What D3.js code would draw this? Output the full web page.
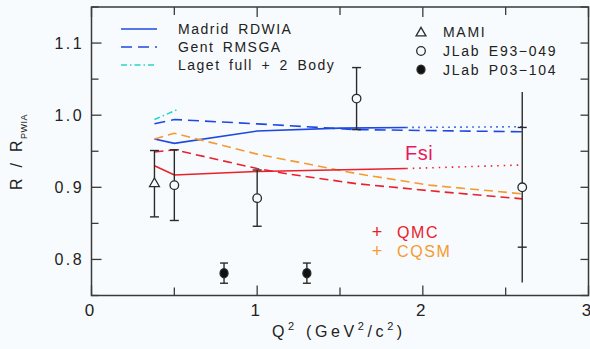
<!DOCTYPE html>
<html><head><meta charset="utf-8">
<script src="https://cdn.jsdelivr.net/npm/d3@7"></script>
<style>
html,body{margin:0;padding:0;background:#f8fbfd;}
svg{display:block;font-family:"Liberation Sans",Arial,sans-serif;}
</style></head>
<body><svg id="c" width="590" height="349"></svg>
<script>
// ---- axis ticks ----
const xTickLabels = [0, 1, 2, 3];
const yTickLabels = [0.8, 0.9, 1.0, 1.1];

// ---- theory curves ----
const madridQ2 = [0.38, 0.5, 1.0, 1.5, 1.9];
const madridR  = [0.967, 0.961, 0.978, 0.982, 0.983];
const madridExtQ2 = [1.9, 2.6];
const madridExtR  = [0.983, 0.984];

const gentQ2 = [0.38, 0.5, 1.0, 1.6, 2.6];
const gentR  = [0.988, 0.994, 0.988, 0.980, 0.977];

const lagetQ2 = [0.38, 0.52];
const lagetR  = [0.994, 1.008];

const cqsmQ2 = [0.38, 0.5, 1.0, 1.6, 2.04, 2.6];
const cqsmR  = [0.967, 0.975, 0.946, 0.919, 0.903, 0.891];

const qmcQ2 = [0.38, 0.5, 1.0, 1.2, 1.6, 2.1, 2.6];
const qmcR  = [0.949, 0.952, 0.926, 0.918, 0.905, 0.894, 0.884];

const fsiQ2 = [0.38, 0.5, 1.0, 1.9];
const fsiR  = [0.930, 0.917, 0.922, 0.926];
const fsiExtQ2 = [1.9, 2.6];
const fsiExtR  = [0.926, 0.931];

// ---- data points ----
const mamiQ2 = [0.38];
const mamiR  = [0.905];
const mamiErr = [0.046];

const e93Q2 = [0.5, 1.0, 1.6, 2.6];
const e93R  = [0.903, 0.885, 1.023, 0.900];
const e93Err = [0.049, 0.039, 0.043, 0.083];
const e93ErrTot = [0.049, 0.039, 0.043, 0.132];

const p03Q2 = [0.8, 1.3];
const p03R  = [0.781, 0.781];
const p03Err = [0.014, 0.014];

const svg = d3.select("#c");
const x = d3.scaleLinear().domain([0, 3]).range([91.5, 588.5]);
const y = d3.scaleLinear().domain([0.75, 1.15]).range([295.5, 7]);
const axisCol = "#3a3a3a";
const txtCol = "#222";

// frame
svg.append("rect").attr("x", x(0)).attr("y", y(1.15))
  .attr("width", x(3) - x(0)).attr("height", y(0.75) - y(1.15))
  .attr("fill", "none").attr("stroke", axisCol).attr("stroke-width", 1.5);

// ticks
const xt = d3.range(0, 3.01, 0.5);
const yt = d3.range(0.75, 1.151, 0.05);
const tg = svg.append("g").attr("stroke", axisCol).attr("stroke-width", 1.3);
xt.forEach(v => {
  const L = Math.abs(v - Math.round(v)) < 1e-6 ? 10 : 8;
  tg.append("line").attr("x1", x(v)).attr("x2", x(v)).attr("y1", y(0.75)).attr("y2", y(0.75) - L);
  tg.append("line").attr("x1", x(v)).attr("x2", x(v)).attr("y1", y(1.15)).attr("y2", y(1.15) + L);
});
yt.forEach(v => {
  const major = Math.abs(v * 10 - Math.round(v * 10)) < 1e-6;
  const L = major ? 10 : 7;
  tg.append("line").attr("x1", x(0)).attr("x2", x(0) + L).attr("y1", y(v)).attr("y2", y(v));
  tg.append("line").attr("x1", x(3)).attr("x2", x(3) - 8).attr("y1", y(v)).attr("y2", y(v));
});

// tick labels
svg.append("g").selectAll("text").data(xTickLabels).join("text")
  .attr("x", d => x(d) - 2).attr("y", 316).attr("text-anchor", "middle")
  .attr("font-size", 17).attr("fill", txtCol).text(d => d);
svg.append("g").selectAll("text").data(yTickLabels).join("text")
  .attr("x", 84).attr("y", d => y(d) + 6).attr("text-anchor", "end")
  .attr("font-size", 16).attr("letter-spacing", 2.4).attr("fill", txtCol).text(d => d.toFixed(1));

// axis titles
const xtitle = svg.append("text").attr("x", 272).attr("y", 337).attr("font-size", 16)
  .attr("letter-spacing", 3.6).attr("fill", txtCol);
xtitle.append("tspan").text("Q");
xtitle.append("tspan").attr("font-size", 11).attr("dy", -7).text("2");
xtitle.append("tspan").attr("x", 306).attr("dy", 7).text("(GeV");
xtitle.append("tspan").attr("font-size", 11).attr("dy", -7).text("2");
xtitle.append("tspan").attr("dy", 7).text("/c");
xtitle.append("tspan").attr("font-size", 11).attr("dy", -7).text("2");
xtitle.append("tspan").attr("dy", 7).text(")");

const ytitle = svg.append("text").attr("transform", "translate(22,152) rotate(-90)")
  .attr("text-anchor", "middle").attr("font-size", 16).attr("letter-spacing", 1.5).attr("fill", txtCol);
ytitle.append("tspan").text("R\u2002/\u2002R");
ytitle.append("tspan").attr("font-size", 9).attr("letter-spacing", 0.5).attr("dy", 5).text("PWIA");

// curves
const line = d3.line().x(d => x(d[0])).y(d => y(d[1]));
const zip = (a, b) => a.map((v, i) => [v, b[i]]);
const blue = "#1f48e0", red = "#e8212b", orange = "#f59a2e", cyan = "#27d6c4";
function curve(xs, ys, col, dash, w) {
  svg.append("path").datum(zip(xs, ys)).attr("d", line).attr("fill", "none")
    .attr("stroke", col).attr("stroke-width", w || 1.6)
    .attr("stroke-dasharray", dash || null);
}
curve(madridQ2, madridR, blue);
curve(madridExtQ2, madridExtR, blue, "1.5,4.5");
curve(gentQ2, gentR, blue, "11,6");
curve(lagetQ2, lagetR, cyan, "6,3,1.5,3");
curve(cqsmQ2, cqsmR, orange, "9,5");
curve(qmcQ2, qmcR, red, "9,5");
curve(fsiQ2, fsiR, red);
curve(fsiExtQ2, fsiExtR, red, "1.5,5");

// error bars
const eb = svg.append("g").attr("stroke", "#2a2a2a").attr("stroke-width", 1.4);
function errbar(xv, yv, e, etot, cw) {
  eb.append("line").attr("x1", x(xv)).attr("x2", x(xv)).attr("y1", y(yv + etot)).attr("y2", y(yv - etot));
  [yv + e, yv - e].forEach(c => eb.append("line").attr("x1", x(xv) - cw).attr("x2", x(xv) + cw).attr("y1", y(c)).attr("y2", y(c)));
}
mamiQ2.forEach((q, i) => errbar(q, mamiR[i], mamiErr[i], mamiErr[i], 4.5));
e93Q2.forEach((q, i) => errbar(q, e93R[i], e93Err[i], e93ErrTot[i], 4.5));
p03Q2.forEach((q, i) => errbar(q, p03R[i], p03Err[i], p03Err[i], 4));

// markers
const mk = svg.append("g").attr("stroke", "#2a2a2a").attr("stroke-width", 1.3);
const tri = d3.symbol().type(d3.symbolTriangle).size(42);
mamiQ2.forEach((q, i) => mk.append("path").attr("d", tri()).attr("transform", `translate(${x(q)},${y(mamiR[i])})`).attr("fill", "#f8fbfd"));
e93Q2.forEach((q, i) => mk.append("circle").attr("cx", x(q)).attr("cy", y(e93R[i])).attr("r", 4.3).attr("fill", "#f8fbfd"));
p03Q2.forEach((q, i) => mk.append("ellipse").attr("cx", x(q)).attr("cy", y(p03R[i])).attr("rx", 4).attr("ry", 4.6).attr("fill", "#111"));

// legend (curves)
const legL = [
  {t: "Madrid\u2002RDWIA", c: blue, d: null, yy: 29},
  {t: "Gent\u2002RMSGA", c: blue, d: "11,6", yy: 47},
  {t: "Laget\u2002full\u2002+\u20022\u2002Body", c: cyan, d: "6,3,1.5,3", yy: 65}
];
legL.forEach(l => {
  svg.append("line").attr("x1", 121).attr("x2", 157).attr("y1", l.yy).attr("y2", l.yy)
    .attr("stroke", l.c).attr("stroke-width", 1.6).attr("stroke-dasharray", l.d);
  svg.append("text").attr("x", 178).attr("y", l.yy + 5).attr("font-size", 14)
    .attr("letter-spacing", 1.5).attr("fill", txtCol).text(l.t);
});

// legend (data)
const legR = [
  {t: "MAMI", yy: 32},
  {t: "JLab\u2002E93\u2212049", yy: 51},
  {t: "JLab\u2002P03\u2212104", yy: 69.5}
];
legR.forEach((l, i) => {
  if (i === 0) mk.append("path").attr("d", tri()).attr("transform", `translate(421,${l.yy + 1})`).attr("fill", "none");
  if (i === 1) mk.append("circle").attr("cx", 421).attr("cy", l.yy).attr("r", 4.3).attr("fill", "none");
  if (i === 2) mk.append("ellipse").attr("cx", 421).attr("cy", l.yy).attr("rx", 4).attr("ry", 4.4).attr("fill", "#111");
  svg.append("text").attr("x", 443).attr("y", l.yy + 5).attr("font-size", 14)
    .attr("letter-spacing", 1.7).attr("fill", txtCol).text(l.t);
});

// Fsi label
svg.append("text").attr("x", 405).attr("y", 160).attr("font-size", 20).attr("letter-spacing", 0.5).attr("fill", "#e8195c").text("Fsi");

// QMC / CQSM legend
[{t: "QMC", c: "#e8212b", yy: 238}, {t: "CQSM", c: "#f59a2e", yy: 257}].forEach(l => {
  svg.append("text").attr("x", 377).attr("y", l.yy).attr("text-anchor", "middle").attr("font-size", 18).attr("fill", l.c).text("+");
  svg.append("text").attr("x", 397).attr("y", l.yy).attr("font-size", 16).attr("letter-spacing", 1.6).attr("fill", l.c).text(l.t);
});
</script></body></html>
